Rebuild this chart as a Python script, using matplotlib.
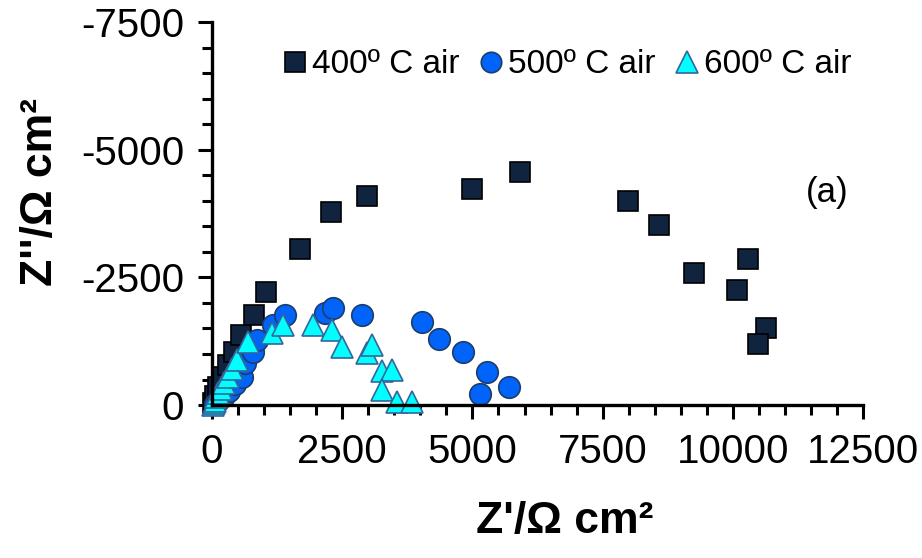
import numpy as np
import matplotlib
matplotlib.use('Agg')
import matplotlib.pyplot as plt

plt.rcParams['font.family'] = ['Liberation Sans', 'DejaVu Sans']
plt.rcParams['axes.unicode_minus'] = False

# 400 C air
sq_x = [20, 60, 120, 200, 300, 420, 557, 806, 1037, 1690, 2285, 2976, 4992, 5914,
        7988, 8583, 9255, 10292, 10081, 10637, 10484]
sq_y = [-50, -180, -350, -550, -780, -1040, -1370, -1762, -2212, -3054, -3778, -4092, -4229, -4561,
        -3994, -3524, -2584, -2858, -2251, -1507, -1194]

# 500 C air
ci_x = [50, 120, 220, 330, 450, 580, 640, 790, 860, 1170, 1402, 2170, 2323, 2880,
        4032, 4359, 4820, 5280, 5703, 5146]
ci_y = [-30, -80, -170, -280, -420, -560, -820, -1040, -1270, -1570, -1760, -1800, -1900, -1760,
        -1625, -1292, -1037, -646, -352, -215]

# 600 C air
tr_x = [15, 30, 50, 80, 120, 170, 230, 300, 384, 480, 691, 1152, 1363, 1939,
        2304, 2496, 2976, 3072, 3264, 3456, 3264, 3552, 3840]
tr_y = [-10, -40, -90, -150, -230, -320, -430, -550, -705, -881, -1233, -1410, -1566, -1566,
        -1468, -1135, -1018, -1175, -666, -685, -294, -59, -59]

labels = ['400º C air', '500º C air', '600º C air']

fig = plt.figure(figsize=(9.22, 5.58), dpi=100)
ax = fig.add_axes([0.230, 0.274, 0.706, 0.6866])

ax.plot(sq_x, sq_y, ls='none', marker='s', ms=15, mfc='#10233f', mec='#000000', mew=1.2,
        label=labels[0], clip_on=False)
ax.plot(ci_x, ci_y, ls='none', marker='o', ms=15.5, mfc='#0064fa', mec='#1c3d6b', mew=1.2,
        label=labels[1], clip_on=False)
ax.plot(tr_x, tr_y, ls='none', marker='^', ms=16, mfc='#00ffff', mec='#35659a', mew=1.2,
        label=labels[2], clip_on=False)

ax.set_xlim(0, 12500)
ax.set_ylim(0, -7500)
ax.set_xticks(np.arange(0, 12501, 2500))
ax.set_xticks(np.arange(0, 12501, 500), minor=True)
ax.set_yticks([0, -2500, -5000, -7500])
ax.set_yticks(np.arange(0, -7501, -500), minor=True)

for s in ['top', 'right']:
    ax.spines[s].set_visible(False)
for s in ['left', 'bottom']:
    ax.spines[s].set_linewidth(2.4)

ax.tick_params(axis='both', which='major', direction='out', length=10, width=2.2,
               labelsize=29, pad=10)
ax.tick_params(axis='both', which='minor', direction='out', length=7, width=2.2)

ax.set_xlabel("Z'/Ω cm²", fontsize=32, fontweight='bold')
ax.set_ylabel("Z''/Ω cm²", fontsize=32, fontweight='bold')
ax.xaxis.set_label_coords(0.542, -0.25)
ax.yaxis.set_label_coords(-0.232, 0.556)

ax.text(0.977, 0.556, '(a)', transform=ax.transAxes, fontsize=25, ha='right', va='center')

ax.legend(loc='center', bbox_to_anchor=(0.542, 0.888), ncol=3, frameon=False,
          fontsize=24, handletextpad=0.0, columnspacing=0.45, markerscale=0.95,
          handlelength=1.0, borderpad=0)

fig.savefig('out.png', dpi=100)
